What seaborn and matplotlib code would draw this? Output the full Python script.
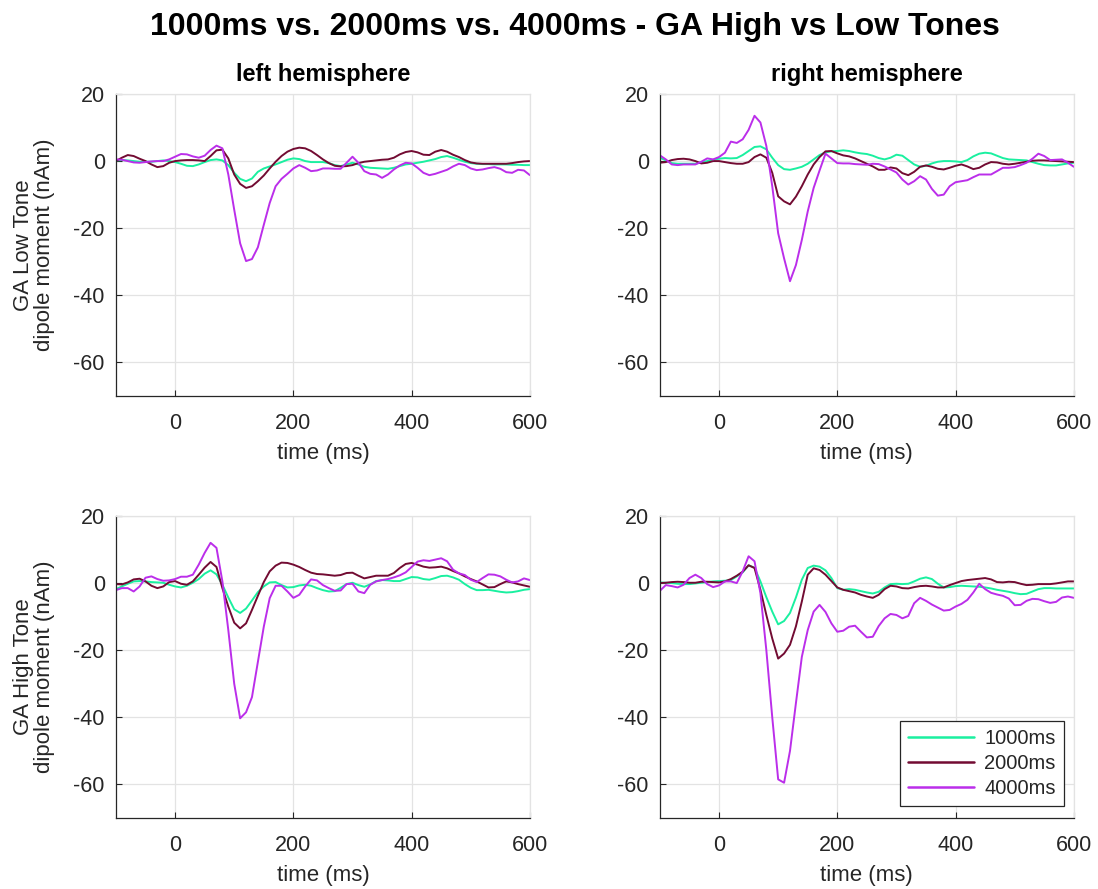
import matplotlib
matplotlib.use("Agg")
import matplotlib.pyplot as plt
import seaborn as sns
import pandas as pd

# time axis (ms), one sample every 10 ms
time_ms = list(range(-100, 601, 10))

conditions = ["1000ms", "2000ms", "4000ms"]
colors = ["#1AF0A0", "#720B32", "#BB2EEA"]

# GA Low Tone - left hemisphere
left_low_1000 = [0.2, 0.3, 0.2, 0.0, -0.2, -0.2, -0.2, 0.0, 0.2, 0.0,
                 -0.3, -0.8, -1.4, -1.5, -1.0, -0.3, 0.3, 0.5, 0.2, -1.2,
                 -3.5, -5.3, -6.0, -5.2, -3.2, -2.2, -1.6, -1.0, -0.3, 0.4,
                 0.8, 0.6, 0.0, -0.3, -0.3, -0.3, -0.6, -1.2, -1.5, -1.0,
                 -0.5, -1.0, -1.7, -2.0, -2.1, -2.2, -2.3, -2.0, -1.5, -1.0,
                 -0.8, -0.5, -0.2, 0.2, 0.6, 1.2, 1.5, 1.0, 0.4, -0.2,
                 -0.6, -0.8, -0.9, -0.9, -1.0, -1.0, -1.0, -1.1, -1.1, -1.2,
                 -1.2]
left_low_2000 = [0.0, 1.0, 1.8, 1.5, 0.7, 0.0, -1.0, -1.8, -1.5, -0.5,
                 0.0, 0.2, 0.3, 0.3, 0.2, 0.0, 1.5, 3.2, 3.4, 0.8,
                 -4.0, -6.8, -8.0, -7.5, -6.0, -4.3, -2.2, -0.2, 1.5, 2.8,
                 3.6, 4.0, 3.8, 3.0, 1.8, 0.5, -0.6, -1.4, -1.6, -1.5,
                 -1.2, -0.6, -0.2, 0.0, 0.2, 0.4, 0.5, 1.0, 2.0, 2.7,
                 3.0, 2.6, 1.9, 1.8, 2.8, 3.3, 2.8, 1.9, 1.2, 0.3,
                 -0.4, -0.7, -0.8, -0.8, -0.8, -0.8, -0.8, -0.6, -0.3, -0.1,
                 0.0]
left_low_4000 = [0.5, 0.4, 0.0, -0.4, -0.5, -0.3, -0.1, 0.0, 0.0, 0.5,
                 1.3, 2.1, 2.0, 1.4, 1.0, 1.6, 3.3, 4.6, 3.8, -4.0,
                 -14.5, -24.5, -29.8, -29.2, -25.7, -19.0, -12.5, -7.5, -5.3, -3.8,
                 -2.2, -1.2, -2.0, -3.0, -2.8, -2.2, -2.2, -2.3, -2.3, -0.5,
                 1.3, -0.5, -3.0, -3.8, -4.0, -5.0, -4.0, -2.5, -1.3, -0.5,
                 -0.7, -2.0, -3.5, -4.2, -3.8, -3.2, -2.6, -1.6, -0.8, -1.2,
                 -2.2, -2.7, -2.5, -2.1, -1.8, -2.3, -3.3, -3.5, -2.6, -2.8,
                 -4.2]

# GA Low Tone - right hemisphere
right_low_1000 = [1.0, 0.2, -0.6, -0.8, -0.8, -0.8, -0.8, -0.4, 0.0, 0.4,
                  0.7, 0.9, 0.8, 0.9, 1.8, 3.0, 4.2, 4.4, 3.5, 1.0,
                  -1.2, -2.4, -2.6, -2.2, -1.7, -0.8, 0.5, 1.8, 2.6, 2.9,
                  3.0, 3.2, 3.0, 2.6, 2.3, 2.1, 1.6, 0.9, 0.5, 1.0,
                  1.9, 1.6, 0.3, -1.0, -1.7, -1.4, -0.7, -0.2, 0.0, 0.0,
                  -0.1, -0.3, 0.3, 1.4, 2.2, 2.5, 2.3, 1.6, 0.9, 0.5,
                  0.4, 0.3, 0.2, -0.3, -0.8, -1.2, -1.3, -1.3, -1.0, -0.7,
                  -0.5]
right_low_2000 = [-0.5, -0.3, 0.3, 0.6, 0.7, 0.5, 0.0, -0.7, -0.5, 0.0,
                  0.0, -0.3, -0.6, -0.8, -0.8, -0.3, 1.2, 2.0, 1.0, -3.5,
                  -10.5, -12.0, -12.9, -10.6, -7.5, -4.0, -1.0, 1.2, 2.9, 3.0,
                  2.3, 1.7, 1.4, 0.8, 0.0, -0.8, -1.6, -2.6, -2.6, -1.9,
                  -2.2, -3.6, -4.2, -3.2, -1.7, -1.3, -1.7, -2.3, -2.5, -2.0,
                  -1.4, -1.0, -1.6, -2.4, -2.0, -1.0, -0.3, -0.4, -0.8, -1.0,
                  -0.8, -0.5, -0.2, 0.1, 0.2, 0.2, 0.1, 0.0, -0.1, -0.2,
                  -0.3]
right_low_4000 = [1.7, 0.5, -1.0, -1.2, -1.0, -1.0, -1.0, -0.2, 0.8, 0.5,
                  1.2, 2.5, 5.8, 5.4, 6.5, 9.3, 13.5, 11.5, 4.5, -7.5,
                  -21.5, -29.0, -35.8, -31.0, -23.5, -15.0, -8.0, -2.8, 2.2, 0.8,
                  -0.6, -0.7, -0.7, -0.9, -1.0, -1.1, -0.8, -0.9, -1.6, -2.5,
                  -3.4, -5.5, -7.0, -6.0, -4.5, -5.5, -8.3, -10.3, -10.0, -7.5,
                  -6.3, -6.0, -5.7, -4.8, -4.0, -4.0, -4.0, -3.0, -2.0, -2.0,
                  -1.8, -1.2, -0.5, 0.7, 2.2, 1.5, 0.3, 0.4, 0.5, -0.5,
                  -1.7]

# GA High Tone - left hemisphere
left_high_1000 = [-1.8, -1.0, -0.2, 0.5, 0.6, 0.5, 0.3, 0.2, 0.1, -0.5,
                  -1.0, -1.3, -0.8, 0.1, 1.2, 2.8, 3.8, 2.6, -0.5, -4.3,
                  -7.8, -8.9, -7.6, -5.2, -2.7, -1.0, 0.2, 0.3, -0.6, -1.3,
                  -1.2, -0.7, -0.5, -0.8, -1.5, -2.1, -2.5, -2.4, -1.4, -0.3,
                  0.1, -0.6, -1.1, -0.4, 0.6, 0.9, 0.8, 0.6, 0.6, 1.2,
                  1.8, 1.7, 1.2, 1.0, 1.5, 2.1, 2.2, 1.7, 1.0, -0.3,
                  -1.4, -2.1, -2.1, -2.0, -2.3, -2.6, -2.8, -2.7, -2.4, -2.0,
                  -1.8]
left_high_2000 = [-0.3, -0.4, 0.2, 1.1, 1.3, 0.5, -0.8, -1.5, -1.0, 0.3,
                  0.6, -0.2, -0.5, 0.5, 2.5, 4.6, 6.3, 4.8, -1.5, -7.0,
                  -11.8, -13.5, -12.0, -8.0, -3.8, 0.3, 3.5, 5.2, 6.1, 6.0,
                  5.5, 4.8, 3.9, 3.1, 2.7, 2.6, 2.4, 2.2, 2.4, 3.0,
                  3.1, 2.2, 1.4, 1.8, 2.2, 2.2, 2.2, 3.0, 4.5, 5.7,
                  6.0, 5.5, 4.9, 4.6, 4.7, 4.9, 4.4, 3.6, 2.9, 2.0,
                  1.2, 0.5, -0.4, -1.3, -1.2, -0.3, 0.5, 0.2, -0.3, -0.7,
                  -1.1]
left_high_4000 = [-2.1, -1.5, -1.5, -2.5, -1.0, 1.6, 2.0, 1.2, 0.7, 0.8,
                  1.2, 1.9, 1.9, 2.5, 5.5, 9.0, 12.0, 10.5, 0.5, -14.0,
                  -30.0, -40.3, -38.5, -34.0, -23.5, -13.0, -4.5, -0.8, -0.8, -2.5,
                  -4.4, -3.5, -1.0, 1.1, 0.8, -0.6, -1.5, -2.3, -2.2, -0.3,
                  -0.2, -2.5, -3.0, -0.5, 0.5, 0.9, 1.2, 1.7, 2.3, 3.2,
                  4.8, 6.4, 6.8, 6.6, 7.0, 7.4, 6.5, 4.0, 2.9, 2.4,
                  1.0, 0.3, 1.5, 2.6, 2.5, 2.0, 1.0, 0.2, 0.5, 1.4,
                  0.9]

# GA High Tone - right hemisphere
right_high_1000 = [0.2, 0.1, 0.0, -0.2, -0.3, -0.3, -0.1, 0.1, 0.3, 0.5,
                   0.6, 0.7, 0.9, 2.0, 3.2, 5.3, 4.6, 0.5, -4.2, -8.5,
                   -12.3, -11.3, -8.9, -4.3, 1.0, 4.5, 5.2, 4.9, 3.8, 1.5,
                   -1.5, -2.0, -1.8, -2.0, -2.4, -2.8, -3.1, -2.6, -1.3, -0.3,
                   -0.2, -0.3, -0.2, 0.5, 1.3, 1.7, 1.2, -0.2, -1.3, -1.2,
                   -0.9, -0.8, -0.9, -1.0, -1.1, -1.3, -1.6, -2.0, -2.3, -2.6,
                   -3.0, -3.3, -3.2, -2.5, -1.8, -1.5, -1.5, -1.6, -1.6, -1.6,
                   -1.6]
right_high_2000 = [0.0, 0.1, 0.3, 0.4, 0.3, 0.1, 0.1, 0.4, 0.4, 0.3,
                   0.2, 0.5, 1.2, 2.2, 3.4, 5.3, 4.5, -2.0, -9.5, -16.5,
                   -22.5, -21.0, -18.4, -12.9, -5.5, 2.5, 4.4, 3.9, 2.5, 0.6,
                   -1.3, -2.0, -2.4, -2.8, -3.5, -4.0, -4.4, -3.5, -1.8, -0.8,
                   -1.0, -1.5, -1.6, -1.2, -0.9, -0.8, -1.0, -1.3, -1.3, -0.6,
                   0.0, 0.6, 0.9, 1.1, 1.3, 1.5, 1.1, 0.3, 0.2, 0.4,
                   0.3, -0.2, -0.6, -0.5, -0.3, -0.3, -0.3, -0.1, 0.2, 0.5,
                   0.5]
right_high_4000 = [-2.3, -0.6, -0.9, -1.3, -0.5, 1.5, 2.5, 1.5, -0.3, -1.2,
                   -0.7, 0.5, 0.5, 0.0, 3.5, 8.0, 6.5, -3.0, -20.0, -40.0,
                   -58.5, -59.5, -50.0, -35.8, -22.0, -14.0, -8.5, -6.5, -8.6, -12.0,
                   -14.5, -14.2, -13.0, -12.7, -14.5, -16.2, -16.0, -12.8, -10.5, -9.2,
                   -9.5, -10.5, -9.8, -6.0, -4.4, -5.3, -6.4, -7.3, -8.2, -8.0,
                   -7.0, -6.2, -5.0, -2.8, -0.2, -1.8, -2.9, -3.4, -3.8, -4.6,
                   -6.6, -6.5, -5.3, -4.7, -4.8, -5.4, -5.9, -5.6, -4.3, -4.0,
                   -4.4]

row_labels = ["GA Low Tone\ndipole moment (nAm)", "GA High Tone\ndipole moment (nAm)"]
col_titles = ["left hemisphere", "right hemisphere"]

panels = [
    [[left_low_1000, left_low_2000, left_low_4000],
     [right_low_1000, right_low_2000, right_low_4000]],
    [[left_high_1000, left_high_2000, left_high_4000],
     [right_high_1000, right_high_2000, right_high_4000]],
]


def panel_frame(series):
    parts = []
    for cond, vals in zip(conditions, series):
        parts.append(pd.DataFrame({"time": time_ms, "moment": vals, "isi": cond}))
    return pd.concat(parts, ignore_index=True)


sns.set_theme(style="whitegrid")
plt.rcParams["font.family"] = ["Liberation Sans", "DejaVu Sans"]
plt.rcParams["axes.unicode_minus"] = False
plt.rcParams["lines.solid_joinstyle"] = "round"

dark = "#262626"
light = "#E3E3E3"

fig = plt.figure(figsize=(10.98, 8.89), dpi=100)
lefts = [0.1056, 0.601]
bottoms = [0.5546, 0.0799]
w, h = 0.377, 0.3397

for r in range(2):
    for c in range(2):
        ax = fig.add_axes([lefts[c], bottoms[r], w, h])
        df = panel_frame(panels[r][c])
        sns.lineplot(data=df, x="time", y="moment", hue="isi",
                     hue_order=conditions, palette=colors, linewidth=1.4,
                     estimator=None, ax=ax, legend=(r == 1 and c == 1))
        ax.set_xlim(-100, 600)
        ax.set_ylim(-70, 20)
        ax.set_xticks([0, 200, 400, 600])
        ax.set_yticks([-60, -40, -20, 0, 20])
        ax.set_axisbelow(True)
        ax.grid(True, color=light, linewidth=0.9)
        for side in ["left", "bottom"]:
            ax.spines[side].set_color(dark)
            ax.spines[side].set_linewidth(0.9)
        for side in ["top", "right"]:
            ax.spines[side].set_color(light)
            ax.spines[side].set_linewidth(0.9)
        ax.tick_params(axis="both", direction="in", length=4, width=0.8,
                       color=dark, labelcolor=dark, labelsize=15.5,
                       bottom=True, left=True, top=False, right=False)
        ax.tick_params(axis="x", pad=12)
        ax.tick_params(axis="y", pad=8)
        ax.set_xlabel("time (ms)", fontsize=16, color=dark, labelpad=7)
        if c == 0:
            ax.set_ylabel(row_labels[r], fontsize=16, color=dark, labelpad=13,
                          linespacing=1.05)
        else:
            ax.set_ylabel("")
        if r == 0:
            ax.set_title(col_titles[c], fontsize=17, fontweight="bold",
                         color="black", pad=9)
        if r == 1 and c == 1:
            handles, labels = ax.get_legend_handles_labels()
            ax.legend(handles, labels, loc="lower right",
                      bbox_to_anchor=(0.976, 0.04), borderaxespad=0,
                      frameon=True, fancybox=False, edgecolor=dark,
                      framealpha=1, fontsize=14.5, handlelength=3.3,
                      handletextpad=0.5, labelspacing=0.3, borderpad=0.4)
            ax.get_legend().get_frame().set_linewidth(0.9)
            for line in ax.get_legend().get_lines():
                line.set_linewidth(1.8)

fig.suptitle("1000ms vs. 2000ms vs. 4000ms - GA High vs Low Tones",
             x=0.524, y=0.97, va="center", fontsize=23, fontweight="bold",
             color="black")

fig.savefig("out.png", dpi=100)
